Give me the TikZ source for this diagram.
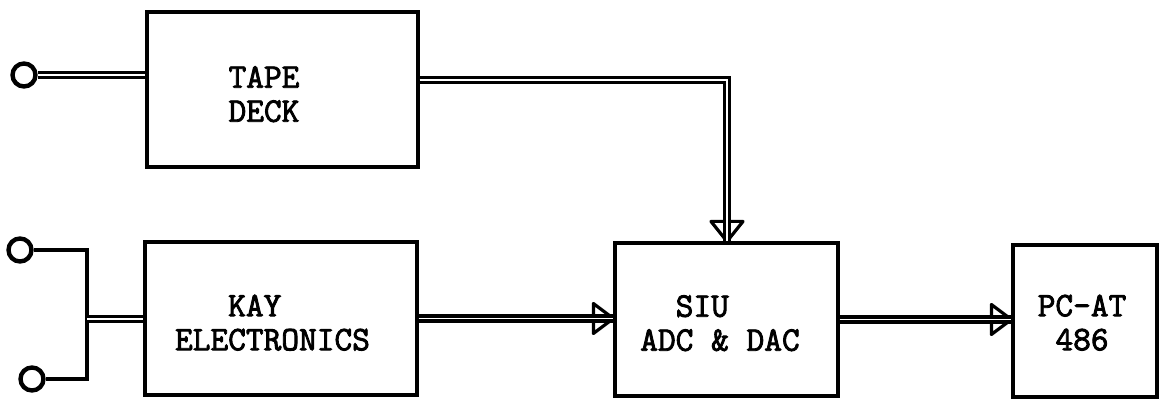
\documentclass[tikz,border=0pt]{standalone}
\usepackage{fontspec}
\newfontfamily\twfont{Latin Modern Mono}[FakeBold=2.5]
\begin{document}
\begin{tikzpicture}[x=0.5pt,y=-0.5pt,
  box/.style={draw, line width=1.6pt, inner sep=0pt, rectangle},
  lbl/.style={font=\twfont\fontsize{17.2}{17}\selectfont, inner sep=0pt, text depth=0pt},
  wire/.style={line width=1.6pt},
  dline/.style={double, line width=1.7pt, double distance=0.8pt},
  term/.style={draw, circle, line width=2.2pt, minimum size=11.5pt, inner sep=0pt},
  ahead/.style={draw, line width=1.6pt, fill=white, line join=round}]
\useasboundingbox (0,0) rectangle (1167,400);
% boxes
\node[box, minimum width=135.5pt, minimum height=77.5pt] (tape) at (282.5,89.5) {};
\node[box, minimum width=136pt, minimum height=76.5pt] (kay) at (281,318.5) {};
\node[box, minimum width=111.5pt, minimum height=76.5pt] (siu) at (726.5,319.5) {};
\node[box, minimum width=72pt, minimum height=76pt] (pc) at (1085,321) {};
% labels
\node[lbl, align=center] (tapet) at (264,94) {TAPE\\DECK};
\node[lbl, align=left] (kayt) at (272.5,322.5) {\hphantom{ELE}KAY\\ELECTRONICS};
\node[lbl, align=left] (siut) at (720,323) {\hphantom{AD}SIU\\ADC \& DAC};
\node[lbl, align=center] (pct) at (1082,322.5) {PC-AT\\486};
% terminals
\node[term] (t1) at (24,75) {};
\node[term] (k1) at (20,250) {};
\node[term] (k2) at (32,379) {};
\coordinate (j1) at (87,250);
\coordinate (j2) at (87,379);
\coordinate (jm) at (87,319);
\coordinate (tc) at (727,80);
\coordinate (a1) at (siu.west |- kay.east);
\coordinate (a2) at (siu.north -| tc);
\coordinate (a3) at (pc.west |- siu.east);
% inputs
\draw[dline] (t1) -- (tape.west |- t1);
\draw[wire] (k1) -- (j1) -- (j2) -- (k2);
\draw[dline] (jm) -- (kay.west |- jm);
% arrow heads
\draw[ahead] (a1) -- ++(-20,-15) -- ++(0,30) -- cycle;
\draw[ahead] (a2) -- ++(-16,-20) -- ++(32,0) -- cycle;
\draw[ahead] (a3) -- ++(-20,-15) -- ++(0,30) -- cycle;
% connectors
\draw[dline] (kay.east) -- (a1);
\draw[dline] (siu.east) -- (a3);
\draw[dline] (tape.east |- tc) -- (tc) -- (a2);
\end{tikzpicture}
\end{document}
